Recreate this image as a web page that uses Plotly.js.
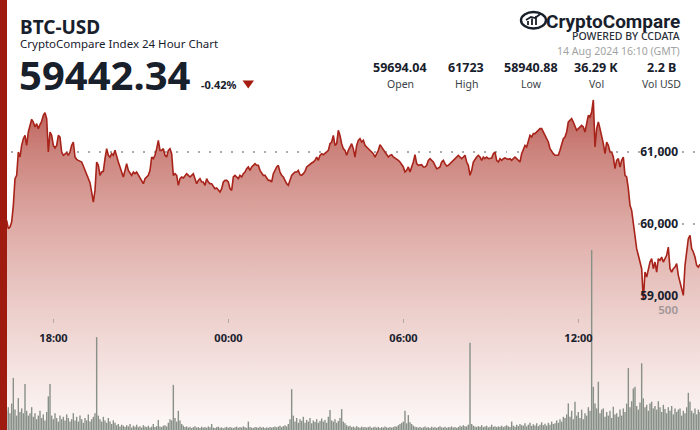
<!DOCTYPE html>
<html><head><meta charset="utf-8">
<script src="https://cdn.plot.ly/plotly-3.0.1.min.js"></script>
<style>html,body{margin:0;padding:0;background:#fff;}#chart{width:700px;height:430px;}</style>
</head><body><div id="chart"></div>
<script>
// ---------- data ----------
const symbol = 'BTC-USD';
const subtitle = 'CryptoCompare Index 24 Hour Chart';
const lastPrice = '59442.34';
const changePct = '-0.42%';
const stampText = '14 Aug 2024 16:10 (GMT)';
const statValues = ['59694.04', '61723', '58940.88', '36.29 K', '2.2 B'];
const statLabels = ['Open', 'High', 'Low', 'Vol', 'Vol USD'];
const startTime = '2024-08-13T16:10:00Z';
const endTime = '2024-08-14T16:10:00Z';
const tickTimes = ['2024-08-13 18:00', '2024-08-14 00:00', '2024-08-14 06:00', '2024-08-14 12:00'];
const tickLabels = ['18:00', '00:00', '06:00', '12:00'];
const priceTicks = [59000, 60000, 61000];
const volTicks = [0, 500];

const priceSeg1 = [59694,59800,59900,59960,60051,59935,59958,60028,60259,60630,
60676,61000,60930,61092,61185,61231,61092,61278,61370,61454,
61417,61347,61393,61324,61380,61426,61509,61546,61463,61000,
61278,61231,61092,61055,61092,61231,61208,61000,60954,60977,
60991,60954,61000,61092,61139,60930,60898,60884,60870,60861,
60805,60745,60699,60653,60574,60444,60305,60467,60861,60815,
60676,60722,60731,60907,61046,60954,60930,60977,60954,61023,
60930,60861,60792,60722,60653,60745,60838,60745,60699,60676,
60722,60699,60722,60676,60630,60606,60560,60630,60653,60676,
60745,60930,60907,60954,61046,61162,61023,61023,61046,60954,
60930,61023,61046,60977,60676];
const priceSeg2 = [60699,60676,60537,60630,60653,60639,60676,60699,60676,60653,
60676,60699,60630,60560,60606,60630,60583,60583,60537,60630,
60583,60560,60560,60514,60491,60500,60467,60444,60491,60583,
60606,60606,60583,60491,60467,60653,60676,60653,60630,60676,
60653,60699,60722,60768,60792,60745,60792,60815,60838,60815,
60815,60745,60699,60676,60676,60630,60606,60606,60583,60699,
60745,60792,60815,60722,60676,60653,60606,60560,60537,60606,
60676,60699,60722,60722,60745,60685,60676,60699,60731,60792,
60815,60838,60847,60861,60884,60930,60884,60954,60977,60963,
60977,61000,61023,61116,61139,61231,61092,61116,61301,61231,
61116,61046,61023,60954,61023];
const priceSeg3 = [61069,61116,61046,60930,61092,61162,61185,61139,61162,61092,
61069,61046,61023,61000,60977,60930,60977,61023,61102,61069,
61023,61000,60963,60930,60954,60963,60930,60917,60907,60884,
60861,60815,60792,60722,60745,60792,60722,60792,60861,60963,
60838,60815,60815,60824,60792,60792,60815,60884,60907,60884,
60861,60815,60768,60778,60792,60861,60884,60838,60805,60815,
60838,60861,60884,60907,60930,60954,60930,60907,60930,60954,
60861,60815,60676,60745,60861,60907,60930,60954,60930,60884,
60930,60907,60930,60907,60907,60917,60977,61000,60884,60861,
60907,60884,60907,60917,60907,60898,60907,60884,60907,60930,
60907,60884,60861,60977,61023];
const priceSeg4 = [61092,61069,61139,61231,61208,61255,61255,61278,61301,61324,
61324,61278,61231,61185,61139,61046,61000,60977,60954,60954,
60954,61023,61092,61185,61208,61278,61417,61440,61463,61417,
61347,61301,61324,61347,61370,61347,61278,61393,61509,61486,
61556,61723,61069,61324,61417,61324,61231,61116,60977,61139,
61092,61000,61000,60930,60768,60884,60907,60792,60884,60930,
60676,60653,60491,60259,60190,59981,59796,59657,59565,59472,
59379,58941,59333,59264,59379,59472,59518,59379,59472,59333,
59518,59495,59541,59472,59518,59565,59680,59379,59333,59379,
59402,59449,59287,59194,59125,59009,59426,59657,59796,59842,
59657,59611,59541,59426,59402,59442.34];

const volume = [60,55,70,65,80,95,70,110,217,85,60,133,75,90,70,192,80,60,70,95,
55,70,45,60,80,50,65,40,75,140,192,60,45,70,50,35,60,45,55,40,
65,50,35,45,70,40,55,35,60,45,30,50,40,65,35,45,55,70,387,60,
45,35,55,40,30,50,35,25,40,30,20,25,15,22,18,12,20,15,25,10,
18,14,22,12,16,10,20,15,12,18,10,14,25,12,16,42,15,12,18,20,
15,30,45,40,188,50,35,80,40,25,18,12,15,10,14,8,12,16,10,12,
8,14,10,12,9,15,11,25,10,8,12,14,9,11,7,10,13,9,12,10,
8,11,14,9,12,10,15,11,9,35,12,10,8,13,11,9,14,10,12,8,
11,9,13,10,12,15,11,14,18,12,16,20,15,25,45,170,60,35,50,30,
45,38,55,30,42,35,50,28,40,33,45,30,38,48,35,42,30,55,83,40,
35,45,30,38,50,87,35,28,20,15,18,12,14,10,16,12,9,14,11,13,
10,12,15,9,11,14,10,13,8,12,10,15,11,9,13,10,12,16,14,20,
25,30,35,80,28,62,32,25,18,14,12,10,13,9,11,15,10,12,8,14,
10,13,9,12,16,11,10,14,9,12,11,15,10,13,9,12,18,14,20,16,
15,22,364,25,18,15,12,16,14,20,12,15,18,11,14,22,13,16,12,15,
14,18,12,16,20,15,13,35,18,14,22,16,25,20,18,28,15,22,30,17,
24,19,28,16,22,32,20,26,18,30,22,35,25,28,40,30,45,35,55,50,
65,111,55,80,45,118,60,75,50,85,45,70,60,95,80,750,180,110,90,201,
70,85,90,55,75,60,80,50,97,65,70,55,85,60,90,75,110,258,95,120,
173,180,100,85,115,278,132,95,105,80,110,118,90,100,85,120,95,75,105,88,
70,95,80,100,65,90,75,85,90,60,80,70,95,155,118,80,70,90,65,85,
75];

// ---------- build ----------
const price = priceSeg1.concat(priceSeg2, priceSeg3, priceSeg4);
const t0 = Date.parse(startTime), t1 = Date.parse(endTime);
const n = price.length;
const times = price.map((_, i) => new Date(t0 + i * (t1 - t0) / (n - 1)).toISOString().slice(0, 19).replace('T', ' '));
const fmtRange = [startTime, endTime].map(s => s.slice(0, 19).replace('T', ' '));

const W = 700, H = 430;
const px = x => x / W, py = y => 1 - y / H;
const FONT = 'Noto Sans, Roboto, sans-serif';
const DARK = '#18202c';

const yLo = 57139, yHi = 63111;

const traces = [
  {
    x: times, y: price, type: 'scatter', mode: 'lines',
    line: {color: '#a8231a', width: 1.6},
    fill: 'tozeroy',
    fillgradient: {
      type: 'vertical', start: yLo, stop: 61723,
      colorscale: [[0, 'rgb(253,249,248)'], [0.406, 'rgb(234,201,197)'], [0.624, 'rgb(222,170,165)'], [0.842, 'rgb(204,132,125)'], [1, 'rgb(186,92,84)']]
    },
    hoverinfo: 'skip'
  },
  {
    x: times.slice(0, volume.length), y: volume, type: 'bar', yaxis: 'y2',
    marker: {color: 'rgb(136,144,136)', line: {width: 0}},
    hoverinfo: 'skip'
  }
];

const annotations = [];
function ann(text, x, y, size, o) {
  o = o || {};
  annotations.push(Object.assign({
    xref: 'paper', yref: 'paper', x: px(x), y: py(y), text: text, showarrow: false,
    xanchor: 'left', yanchor: 'middle', borderpad: 0,
    font: {family: o.family || FONT, size: size, color: o.color || DARK, weight: o.weight || 400}
  }, o.extra || {}));
}
ann(symbol, 19, 27, 19, {weight: 700});
ann(subtitle, 19, 43.5, 11.5);
ann(lastPrice, 18, 74, 40, {weight: 700});
ann(changePct, 200, 84.5, 11, {weight: 700});
ann('CryptoCompare', 681, 21, 19, {weight: 700, family: 'Roboto, sans-serif', extra: {xanchor: 'right'}});
ann('POWERED BY CCDATA', 681, 35.5, 10.5, {weight: 500, color: '#2a2f38', extra: {xanchor: 'right'}});
ann(stampText, 681, 51.5, 10.5, {color: '#a3a3a3', extra: {xanchor: 'right'}});
const statX = [400, 466, 531, 596, 661];
statValues.forEach((v, i) => ann(v, statX[i], 68, 12.5, {weight: 700, extra: {xanchor: 'center'}}));
statLabels.forEach((v, i) => ann(v, statX[i], 84, 10.5, {color: '#3a3f47', extra: {xanchor: 'center'}}));

const shapes = [
  {type: 'rect', xref: 'paper', yref: 'paper', x0: 0, x1: px(7), y0: 0, y1: 1, fillcolor: '#9f1b10', line: {width: 0}, layer: 'above'},
  {type: 'path', xref: 'paper', yref: 'paper', path: `M ${px(242.5)} ${py(80.5)} L ${px(254)} ${py(80.5)} L ${px(248.25)} ${py(88.5)} Z`, fillcolor: '#a51d10', line: {width: 0}},
  // logo mark
  {type: 'circle', xref: 'paper', yref: 'paper', x0: px(521), x1: px(546), y0: py(28.5), y1: py(12), line: {color: DARK, width: 2.4}},
  {type: 'path', xref: 'paper', yref: 'paper', path: `M ${px(528)} ${py(25)} L ${px(528)} ${py(21)} M ${px(532)} ${py(25)} L ${px(532)} ${py(18.5)} M ${px(536)} ${py(25)} L ${px(536)} ${py(16)} M ${px(526)} ${py(20)} L ${px(531)} ${py(17)} L ${px(535)} ${py(18)} L ${px(541)} ${py(13.5)}`, line: {color: DARK, width: 1.8}}
];

const layout = {
  width: W, height: H, margin: {l: 0, r: 0, t: 0, b: 0},
  paper_bgcolor: '#ffffff', plot_bgcolor: '#ffffff', showlegend: false,
  bargap: 0.15,
  xaxis: {
    type: 'date', range: fmtRange, anchor: 'free', position: 0.2605,
    tickvals: tickTimes, ticktext: tickLabels,
    ticks: 'outside', ticklen: 4, tickcolor: '#b0a8a8', tickwidth: 1, ticklabelstandoff: 6,
    tickfont: {family: FONT, size: 11, color: DARK, weight: 700},
    showgrid: false, zeroline: false, showline: false, fixedrange: true
  },
  yaxis: {
    range: [yLo, yHi], side: 'right', ticklabelposition: 'inside', ticklabelstandoff: 19,
    tickvals: priceTicks, tickformat: ',', ticks: '',
    tickfont: {family: FONT, size: 12, color: DARK, weight: 700},
    showgrid: true, gridcolor: '#ababab', gridwidth: 1.5, griddash: '1.5px,9.5px',
    zeroline: false, showline: false, fixedrange: true
  },
  yaxis2: {
    overlaying: 'y', range: [0, 1791.7], side: 'right', ticklabelposition: 'inside', ticklabelstandoff: 19,
    tickvals: volTicks, ticks: '',
    tickfont: {family: FONT, size: 11.5, color: '#a09696', weight: 600},
    showgrid: false, zeroline: false, showline: false, fixedrange: true
  },
  annotations: annotations,
  shapes: shapes
};

Plotly.newPlot('chart', traces, layout, {displayModeBar: false, staticPlot: true});
</script></body></html>
